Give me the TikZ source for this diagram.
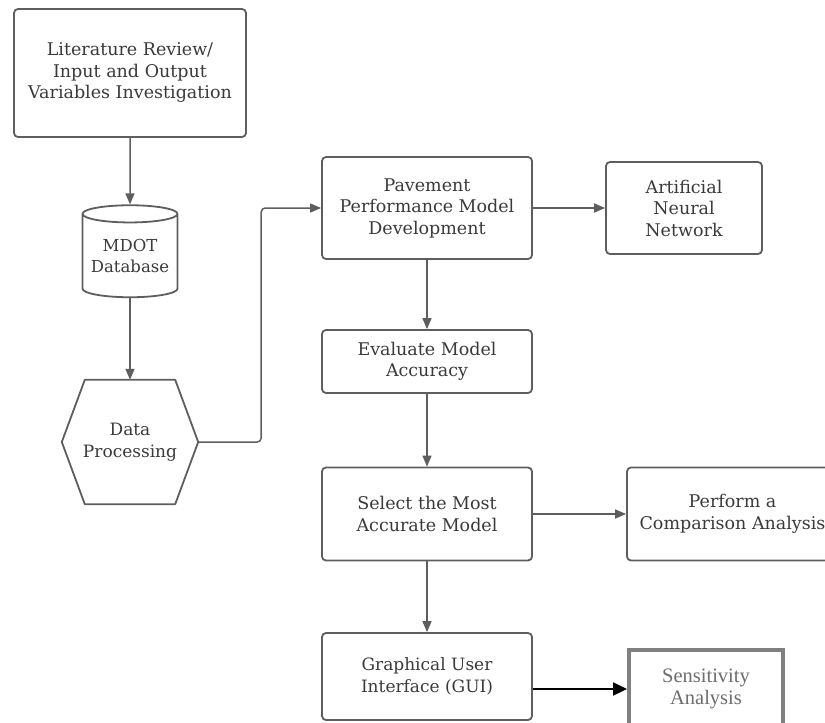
\documentclass[tikz,border=0pt]{standalone}
\usepackage{fontspec}
\usetikzlibrary{arrows.meta,shapes.geometric,calc}
\newfontfamily\lucid{DejaVu Serif}
\newfontfamily\timesf{Liberation Serif}
\definecolor{edge}{HTML}{5E5E5E}
\definecolor{txt}{HTML}{3A3A3A}
\definecolor{sensgray}{HTML}{808080}
\tikzset{
  boxn/.style={draw=edge, line width=1.8pt, rounded corners=4pt, fill=white, text=txt, align=center,
     font=\lucid\fontsize{17.5}{21.5}\selectfont, inner sep=0pt},
  arr/.style={draw=edge, line width=1.5pt, -{Triangle[length=11pt,width=9pt]}},
  barr/.style={draw=black, line width=2.2pt, -{Triangle[length=14pt,width=13pt]}},
}
\begin{document}
\begin{tikzpicture}[x=1pt,y=-1pt]
\useasboundingbox (0,0) rectangle (825,723);
\clip (0,0) rectangle (825,723);
\fill[white] (0,0) rectangle (825,723);

\node[boxn, minimum width=232pt, minimum height=128pt] (lit) at (130,73)
  {Literature Review/\\Input and Output\\Variables Investigation};

\node[cylinder, shape border rotate=90, aspect=0.22, draw=edge, line width=1.8pt, fill=white,
  minimum width=95pt, minimum height=92pt, inner sep=0pt, text=txt, align=center,
  font=\lucid\fontsize{16.5}{21.5}\selectfont] (db) at (130,256) {MDOT\\Database};

\node[minimum width=136pt, minimum height=124pt, inner sep=0pt, text=txt, align=center,
  font=\lucid\fontsize{17}{21.5}\selectfont] (dp) at (130,442) {Data\\Processing};
\draw[edge, line width=1.8pt, line join=round]
  (dp.west) -- ($(dp.north west)+(23,0)$) -- ($(dp.north east)+(-23,0)$) -- (dp.east)
  -- ($(dp.south east)+(-23,0)$) -- ($(dp.south west)+(23,0)$) -- cycle;

\node[boxn, minimum width=210pt, minimum height=102pt] (pav) at (427,208)
  {Pavement\\Performance Model\\Development};
\node[boxn, minimum width=156pt, minimum height=92pt] (ann) at (684,208)
  {Artificial\\Neural\\Network};
\node[boxn, minimum width=210pt, minimum height=63pt] (eval) at (427,361.5)
  {Evaluate Model\\Accuracy};
\node[boxn, minimum width=210pt, minimum height=93pt] (sel) at (427,514)
  {Select the Most\\Accurate Model};
\node[boxn, minimum width=211pt, minimum height=93pt] (cmp) at (732.5,514)
  {Perform a\\Comparison Analysis};
\node[boxn, minimum width=210pt, minimum height=87pt, font=\lucid\fontsize{17}{21.5}\selectfont] (gui) at (427,676.5)
  {Graphical User\\Interface (GUI)};
\node[draw=sensgray, line width=4pt, fill=white, minimum width=154pt, minimum height=78pt,
  inner sep=0pt, align=center, text=sensgray!85!black, font=\timesf\fontsize{20.5}{21.5}\selectfont]
  (sens) at (706,689) {Sensitivity\\Analysis};

\draw[arr] (lit) -- (db);
\draw[arr] (db) -- (dp);
\draw[arr, rounded corners=4pt] (dp.east) -- ++(63,0) |- (pav.west);
\draw[arr] (pav) -- (ann);
\draw[arr] (pav) -- (eval);
\draw[arr] (eval) -- (sel);
\draw[arr] (sel) -- (cmp);
\draw[arr] (sel) -- (gui);
\draw[barr] (gui.east |- sens.west) -- (sens.west);
\end{tikzpicture}
\end{document}
